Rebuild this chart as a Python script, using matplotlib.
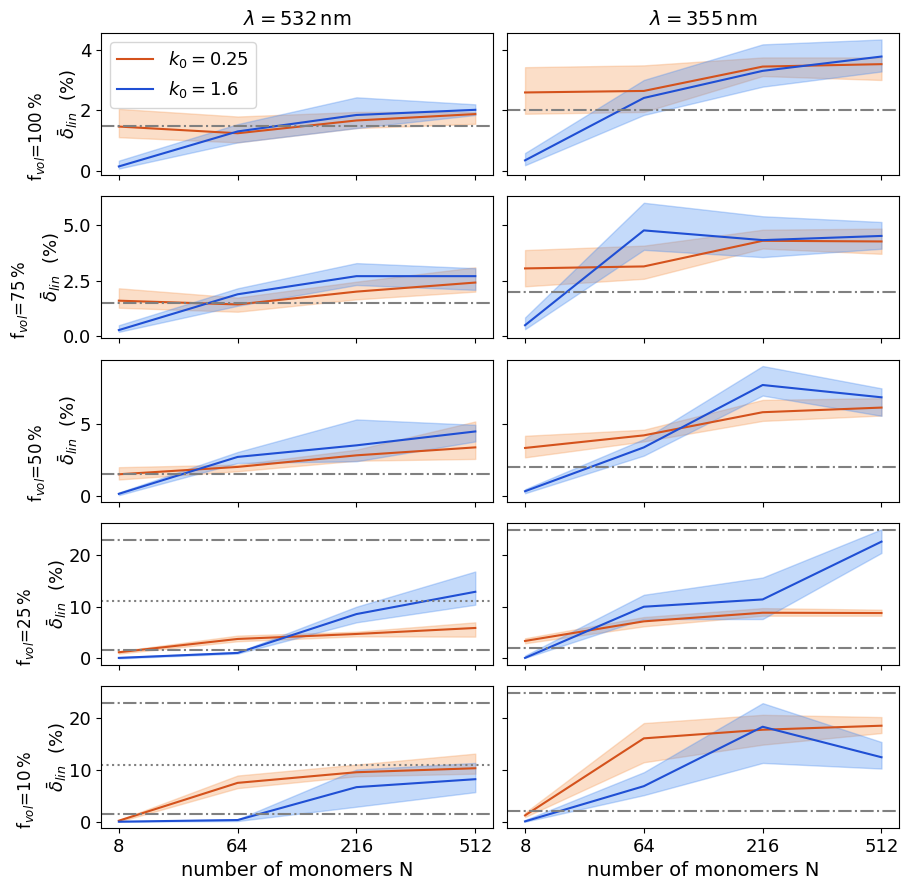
import numpy as np
import matplotlib.pyplot as plt

N_labels = ['8', '64', '216', '512']
wavelengths = [532, 355]
fvol = [100, 75, 50, 25, 10]
k0_values = [0.25, 1.6]

# k0 = 0.25, lambda = 532 nm  (rows: f_vol 100, 75, 50, 25, 10)
k025_mean_532 = [[1.47, 1.25, 1.67, 1.88],
                 [1.59, 1.42, 2.00, 2.41],
                 [1.51, 2.02, 2.82, 3.37],
                 [1.10, 3.69, 4.66, 5.83],
                 [0.19, 7.52, 9.58, 10.35]]
k025_lo_532 = [[1.12, 0.95, 1.42, 1.56],
               [1.27, 1.09, 1.65, 2.00],
               [1.15, 1.72, 2.45, 2.57],
               [0.84, 3.24, 4.20, 4.14],
               [0.00, 6.50, 8.80, 9.30]]
k025_hi_532 = [[2.05, 1.80, 1.95, 1.95],
               [2.15, 1.73, 2.45, 3.10],
               [2.00, 2.18, 3.21, 5.16],
               [1.30, 4.34, 5.10, 6.93],
               [0.32, 8.94, 11.06, 13.18]]

# k0 = 1.6, lambda = 532 nm
k16_mean_532 = [[0.16, 1.31, 1.85, 2.02],
                [0.26, 1.88, 2.70, 2.70],
                [0.16, 2.71, 3.51, 4.47],
                [0.00, 0.97, 8.54, 12.88],
                [0.00, 0.32, 6.69, 8.23]]
k16_lo_532 = [[0.09, 0.95, 1.42, 1.85],
              [0.18, 1.36, 2.30, 2.08],
              [0.07, 2.29, 2.41, 3.78],
              [-0.10, 0.84, 6.93, 10.36],
              [0.00, 0.13, 2.90, 5.72]]
k16_hi_532 = [[0.35, 1.55, 2.43, 2.20],
              [0.48, 2.15, 3.29, 3.06],
              [0.25, 3.05, 5.30, 4.93],
              [0.13, 1.10, 9.97, 16.83],
              [0.05, 0.45, 10.10, 11.38]]

# k0 = 0.25, lambda = 355 nm
k025_mean_355 = [[2.59, 2.64, 3.44, 3.52],
                 [3.05, 3.14, 4.30, 4.27],
                 [3.33, 4.20, 5.80, 6.12],
                 [3.30, 7.12, 8.80, 8.74],
                 [1.22, 16.14, 17.81, 18.59]]
k025_lo_355 = [[1.89, 1.95, 3.13, 3.00],
               [2.24, 2.58, 3.95, 3.71],
               [2.68, 3.78, 5.20, 5.57],
               [2.85, 6.15, 8.22, 8.22],
               [0.90, 11.51, 14.92, 17.17]]
k025_hi_355 = [[3.42, 3.48, 3.74, 3.74],
               [3.88, 4.08, 4.80, 4.85],
               [4.17, 4.59, 6.65, 6.77],
               [3.82, 7.96, 9.70, 9.39],
               [1.74, 19.10, 20.70, 20.26]]

# k0 = 1.6, lambda = 355 nm
k16_mean_355 = [[0.36, 2.41, 3.30, 3.77],
                [0.48, 4.77, 4.33, 4.52],
                [0.34, 3.37, 7.68, 6.83],
                [0.00, 9.97, 11.39, 22.65],
                [0.06, 6.88, 18.39, 12.48]]
k16_lo_355 = [[0.20, 1.85, 2.78, 3.28],
              [0.30, 3.89, 3.56, 3.94],
              [0.20, 2.80, 6.95, 5.55],
              [0.00, 7.57, 7.57, 20.45],
              [0.00, 5.14, 11.38, 10.29]]
k16_hi_355 = [[0.60, 3.00, 4.17, 4.33],
              [0.83, 6.02, 5.41, 5.15],
              [0.48, 3.94, 8.99, 7.45],
              [0.45, 12.30, 15.66, 25.05],
              [0.32, 9.58, 22.96, 15.43]]

# reference levels
dashdot_532 = [[1.5], [1.5], [1.5], [23, 1.5], [23, 1.5]]
dotted_532 = [[], [], [], [11], [11]]
dashdot_355 = [[2], [2], [2], [25, 2], [25, 2]]
dotted_355 = [[], [], [], [], []]

yticks = [[0, 2, 4], [0, 2.5, 5], [0, 5], [0, 10, 20], [0, 10, 20]]

orange = '#d4521c'
blue = '#1f4fd4'
orange_fill = '#f6a263'
blue_fill = '#4a8cf0'

fig, axes = plt.subplots(5, 2, figsize=(9.02, 8.81), dpi=100, sharex=True, sharey='row')
fig.subplots_adjust(left=0.112, right=0.997, top=0.9625, bottom=0.060, hspace=0.15, wspace=0.036)

data = {532: (k025_mean_532, k025_lo_532, k025_hi_532, k16_mean_532, k16_lo_532, k16_hi_532,
              dashdot_532, dotted_532),
        355: (k025_mean_355, k025_lo_355, k025_hi_355, k16_mean_355, k16_lo_355, k16_hi_355,
              dashdot_355, dotted_355)}

x = np.arange(len(N_labels))
for j, lam in enumerate(wavelengths):
    m1, l1, h1, m2, l2, h2, dd, dt = data[lam]
    for i, f in enumerate(fvol):
        ax = axes[i, j]
        ax.plot(x, m1[i], color=orange, lw=1.5, label=rf'$k_0 = {k0_values[0]}$')
        ax.fill_between(x, l1[i], h1[i], color=orange_fill, alpha=0.35)
        ax.plot(x, m2[i], color=blue, lw=1.5, label=rf'$k_0 = {k0_values[1]}$')
        ax.fill_between(x, l2[i], h2[i], color=blue_fill, alpha=0.32)
        for y in dd[i]:
            ax.axhline(y, color='gray', ls='-.', lw=1.5)
        for y in dt[i]:
            ax.axhline(y, color='gray', ls=':', lw=1.5)
        ax.set_yticks(yticks[i])
        ax.tick_params(labelsize=13)
        if i == 0:
            ax.set_title(rf'$\lambda = {lam}\,$nm', fontsize=14)
        if i == len(fvol) - 1:
            ax.set_xlabel('number of monomers N', fontsize=14)
        if j == 0:
            ax.set_ylabel(r'$\bar{\delta}_{lin}$  (%)', fontsize=13, labelpad=0)
            # volume fraction line sits left of and a bit below the ylabel
            ax.annotate(f'f$_{{vol}}$={f}$\\,$%', xy=(0.5, 0.5), xycoords=ax.yaxis.label,
                        xytext=(-22.5, -23.5), textcoords='offset points',
                        rotation=90, ha='center', va='center', fontsize=12)

axes[0, 0].set_xticks(x)
axes[0, 0].set_xticklabels(N_labels)
axes[0, 0].legend(loc='upper left', fontsize=13)

fig.savefig('out.png', dpi=100)
